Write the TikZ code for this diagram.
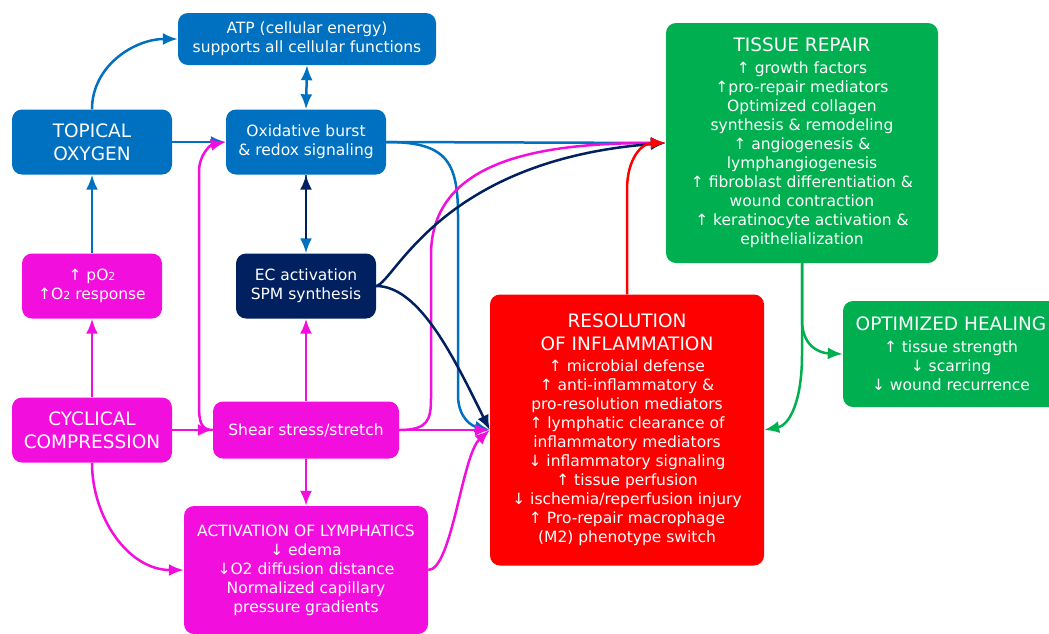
\documentclass[tikz,border=0pt]{standalone}
\usepackage{fontspec}
\setmainfont{DejaVu Sans}
\usetikzlibrary{arrows.meta}
\definecolor{oxblue}{HTML}{0070C0}
\definecolor{cmpink}{HTML}{F20FDE}
\definecolor{ecnavy}{HTML}{002060}
\definecolor{resred}{HTML}{FF0000}
\definecolor{repgreen}{HTML}{00B050}
\newcommand{\uparr}{↑}
\newcommand{\dnarr}{↓}
\newcommand{\smtwo}{{\fontsize{11}{11}\selectfont 2}}
\newcommand{\hdfont}{\fontsize{18.5}{23}\selectfont}
\tikzset{
  >={Latex[length=15pt,width=12pt]},
  box/.style={rounded corners=10pt, text=white, align=center, inner sep=0pt,
    font=\fontsize{15.5}{19}\selectfont},
  blubox/.style={box, fill=oxblue},
  pinkbox/.style={box, fill=cmpink},
  navybox/.style={box, fill=ecnavy},
  redbox/.style={box, fill=resred},
  greenbox/.style={box, fill=repgreen},
  hd/.style={font=\hdfont},
  link/.style={line width=2.5pt, ->},
}
\begin{document}
\begin{tikzpicture}[x=1pt,y=-1pt]
\useasboundingbox (0,0) rectangle (1049,633);
\clip (0,0) rectangle (1049,633);

\node[blubox, minimum width=258pt, minimum height=52pt] (atp) at (307,39)
  {ATP (cellular energy)\\supports all cellular functions};
\node[blubox, hd, minimum width=160pt, minimum height=65pt] (topical) at (92,142)
  {TOPICAL\\OXYGEN};
\node[blubox, minimum width=160pt, minimum height=65pt] (oxid) at (306,142)
  {Oxidative burst\\\& redox signaling};
\node[pinkbox, minimum width=140pt, minimum height=65pt] (po2) at (92,286)
  {\uparr\ pO\smtwo\\\uparr O\smtwo\ response};
\node[navybox, minimum width=140pt, minimum height=65pt] (ec) at (306,286)
  {EC activation\\SPM synthesis};
\node[pinkbox, hd, minimum width=160pt, minimum height=65pt] (cyc) at (92,430)
  {CYCLICAL\\COMPRESSION};
\node[pinkbox, minimum width=186pt, minimum height=57pt] (shear) at (306,430)
  {Shear stress/stretch};
\node[pinkbox, minimum width=244pt, minimum height=128pt] (lymph) at (306,570)
  {ACTIVATION OF LYMPHATICS\\\dnarr\ edema\\\dnarr O2 diffusion distance\\
   Normalized capillary\\pressure gradients};
\node[redbox, minimum width=274pt, minimum height=271pt] (res) at (627,430)
  {{\hdfont RESOLUTION}\\[4pt]{\hdfont OF INFLAMMATION}\\[2pt]
   \uparr\ microbial defense\\\uparr\ anti-inflammatory \&\\pro-resolution mediators\\
   \uparr\ lymphatic clearance of\\inflammatory mediators\\\dnarr\ inflammatory signaling\\
   \uparr\ tissue perfusion\\\dnarr\ ischemia/reperfusion injury\\
   \uparr\ Pro-repair macrophage\\(M2) phenotype switch};
\node[greenbox, minimum width=272pt, minimum height=240pt] (tissue) at (802,143)
  {{\hdfont TISSUE REPAIR}\\[3pt]\uparr\ growth factors\\\uparr pro-repair mediators\\
   Optimized collagen\\synthesis \& remodeling\\\uparr\ angiogenesis \&\\lymphangiogenesis\\
   \uparr\ fibroblast differentiation \&\\wound contraction\\
   \uparr\ keratinocyte activation \&\\epithelialization};
\node[greenbox, minimum width=216pt, minimum height=106pt] (heal) at (951,354)
  {{\hdfont OPTIMIZED HEALING}\\[3pt]\uparr\ tissue strength\\\dnarr\ scarring\\
   \dnarr\ wound recurrence};

\draw[link, oxblue] (topical.north) to[out=90, in=180] (atp.west);
\draw[link, oxblue] (topical.east) -- (oxid.west);
\draw[link, oxblue, <->] (atp.south) -- (oxid.north);
\draw[link, oxblue] (oxid.south) -- (ec.north);
\draw[link, ecnavy, shorten <=14pt] (ec.north) -- (oxid.south);
\draw[link, oxblue] (po2.north) -- (topical.south);
\draw[link, cmpink] (cyc.north) -- (po2.south);
\draw[link, cmpink] (cyc.east) -- (shear.west);
\draw[link, cmpink] (cyc.south) to[out=270, in=180] (lymph.west);
\draw[link, cmpink] (shear.north) -- (ec.south);
\draw[link, cmpink] (shear.south) -- (lymph.north);
\draw[link, cmpink] (shear.west) .. controls (201,430) and (199,422) .. (199,405)
  -- (199,172) .. controls (199,155) and (210,145) .. (oxid.west);
\draw[link, oxblue] (oxid.east) -- (tissue.west);
\draw[link, oxblue] (oxid.east) .. controls (445,142) and (458,160) .. (458,215)
  -- (458,395) .. controls (458,418) and (472,426) .. (res.west);
\draw[link, cmpink] (shear.east) -- (res.west);
\draw[link, cmpink] (shear.east) .. controls (428,430) and (431,420) .. (431,398)
  -- (431,255) .. controls (431,160) and (540,143) .. (tissue.west);
\draw[link, cmpink] (lymph.east) .. controls (452,570) and (462,455) .. (res.west);
\draw[link, ecnavy] (ec.east) .. controls (395,282) and (440,160) .. (tissue.west);
\draw[link, ecnavy] (ec.east) .. controls (420,286) and (455,360) .. (res.west);
\draw[link, resred] (res.north) -- (627,190) .. controls (627,158) and (642,143) .. (tissue.west);
\draw[link, repgreen] (tissue.south) -- (802,320) .. controls (802,345) and (818,353) .. (heal.west);
\draw[link, repgreen] (tissue.south) -- (802,355) .. controls (802,400) and (790,425) .. (res.east);
\end{tikzpicture}
\end{document}
